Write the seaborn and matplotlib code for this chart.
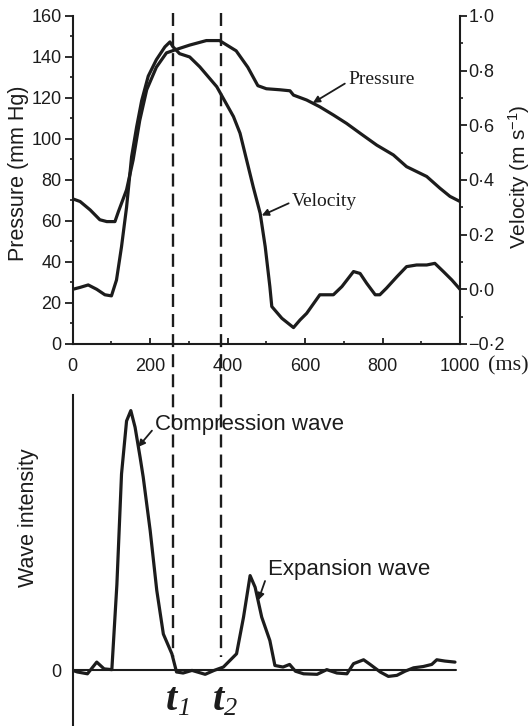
import matplotlib
matplotlib.use("Agg")
import matplotlib.pyplot as plt
import seaborn as sns
from matplotlib import transforms
from matplotlib.ticker import MultipleLocator, FixedLocator

# ---------------- data ----------------
time_p = [0, 19, 45, 70, 88, 109, 118, 139, 156, 173, 191, 216, 242, 268, 302,
          345, 379, 422, 452, 478, 500, 535, 561, 570, 604, 638, 673, 707, 742,
          785, 828, 862, 914, 948, 974, 1000]
pressure = [70.8, 69.5, 65.4, 60.6, 59.7, 59.7, 64.6, 75.2, 89.8, 109, 124, 135,
            142, 143.7, 145.8, 148, 148, 143, 135, 126, 124.5, 124, 123.5, 121.4,
            119, 115.7, 111.7, 107.6, 102.8, 97, 92.2, 86.5, 81.7, 76, 72, 69.5]

time_v = [0, 19, 40, 62, 83, 100, 113, 126, 139, 152, 165, 178, 195, 216, 238,
          251, 259, 276, 302, 328, 372, 415, 432, 449, 466, 484, 497, 509, 514,
          540, 570, 587, 604, 638, 673, 695, 725, 742, 759, 781, 793, 810, 837,
          862, 888, 914, 935, 957, 979, 1000]
velocity = [0.0, 0.007, 0.016, 0.0, -0.02, -0.024, 0.034, 0.156, 0.30, 0.485,
            0.594, 0.69, 0.78, 0.84, 0.887, 0.905, 0.887, 0.862, 0.85, 0.814,
            0.741, 0.632, 0.571, 0.473, 0.375, 0.278, 0.156, 0.01, -0.063,
            -0.106, -0.14, -0.112, -0.088, -0.02, -0.02, 0.01, 0.065, 0.058,
            0.022, -0.02, -0.02, 0.004, 0.046, 0.083, 0.089, 0.089, 0.095,
            0.065, 0.034, 0.0]

time_w = [0, 12, 38, 62, 81, 101, 114, 126, 139, 150, 161, 174, 182, 200, 217,
          234, 256, 268, 285, 308, 342, 365, 389, 423, 441, 458, 471, 488, 509,
          522, 543, 560, 575, 596, 631, 656, 682, 708, 725, 751, 768, 794, 815,
          837, 858, 880, 905, 927, 940, 961, 987]
wave = [0, -0.6, -1.3, 3.2, 0.6, 0.3, 33, 75.6, 96, 100, 93.6, 82, 74.4, 53.8,
        30.8, 14, 6.4, -0.6, -1, 0, -1.5, 0, 1.3, 6.4, 20.5, 36.5, 32, 20.5,
        11.5, 1.9, 1.3, 2.3, -0.3, -1.3, -1.5, 0.3, -1, -1.3, 2.6, 4.1, 2.3,
        -0.6, -2.3, -1.9, -0.3, 1, 1.5, 2.3, 4.1, 3.6, 3.2]

marker_times = [260, 382]
marker_subscripts = ['1', '2']

x_ticks = [0, 200, 400, 600, 800, 1000]
p_ticks = [0, 20, 40, 60, 80, 100, 120, 140, 160]
v_ticks = [-0.2, 0.0, 0.2, 0.4, 0.6, 0.8, 1.0]
v_tick_labels = ['\u22120\u00b72', '0\u00b70', '0\u00b72', '0\u00b74', '0\u00b76', '0\u00b78', '1\u00b70']

# ---------------- style ----------------
sns.set_theme(style="ticks")
plt.rcParams['font.family'] = ['Liberation Sans', 'DejaVu Sans']
plt.rcParams['mathtext.fontset'] = 'custom'
plt.rcParams['mathtext.rm'] = 'Liberation Sans'
plt.rcParams['mathtext.it'] = 'Liberation Sans:italic'
plt.rcParams['mathtext.bf'] = 'Liberation Sans:bold'

ink = '#1c1c1c'
curve_lw = 2.3
spine_lw = 1.5
serif = ['Liberation Serif', 'DejaVu Serif']

fig = plt.figure(figsize=(5.32, 7.26), dpi=100)
ax1 = fig.add_axes([0.1367, 0.5262, 0.728, 0.4518])
ax1b = ax1.twinx()
ax2 = fig.add_axes([0.1367, 0.0014, 0.728, 0.4545])
for a in (ax1, ax1b, ax2):
    a.set_facecolor('none')
fig.patch.set_facecolor('white')

# ---------------- top panel ----------------
sns.lineplot(x=time_p, y=pressure, ax=ax1, color=ink, lw=curve_lw, estimator=None)
sns.lineplot(x=time_v, y=velocity, ax=ax1b, color=ink, lw=curve_lw, estimator=None)

ax1.set_xlim(0, 1000)
ax1.set_ylim(0, 160)
ax1b.set_ylim(-0.2, 1.0)

ax1.spines['top'].set_visible(False)
ax1.spines['right'].set_visible(False)
ax1b.spines['top'].set_visible(False)
ax1b.spines['left'].set_visible(False)
ax1b.spines['bottom'].set_visible(False)
for sp in ('left', 'bottom'):
    ax1.spines[sp].set_linewidth(spine_lw)
    ax1.spines[sp].set_color(ink)
ax1b.spines['right'].set_linewidth(spine_lw)
ax1b.spines['right'].set_color(ink)

ax1.xaxis.set_major_locator(FixedLocator(x_ticks))
ax1.xaxis.set_minor_locator(MultipleLocator(100))
ax1.set_xticklabels([str(v) for v in x_ticks])
ax1.yaxis.set_major_locator(FixedLocator(p_ticks))
ax1.yaxis.set_minor_locator(MultipleLocator(10))
ax1.set_yticklabels([str(v) for v in p_ticks])
ax1b.yaxis.set_major_locator(FixedLocator(v_ticks))
ax1b.yaxis.set_minor_locator(MultipleLocator(0.1))
ax1b.set_yticklabels(v_tick_labels)

ax1.tick_params(axis='x', which='major', direction='in', length=4, width=1.3,
                pad=10, labelsize=13, colors=ink)
ax1.tick_params(axis='x', which='minor', direction='in', length=2.5, width=1.2, colors=ink)
ax1.tick_params(axis='y', which='major', direction='out', length=5.5, width=1.3,
                pad=2.5, labelsize=13, colors=ink)
ax1.tick_params(axis='y', which='minor', direction='out', length=2.5, width=1.2, colors=ink)
ax1b.tick_params(axis='y', which='major', direction='out', length=5, width=1.3,
                 pad=1, labelsize=13, colors=ink)
ax1b.tick_params(axis='y', which='minor', direction='out', length=2.5, width=1.2, colors=ink)

ax1.set_xlabel('')
ax1.set_ylabel('Pressure (mm Hg)', fontsize=15.5, color=ink)
ax1.yaxis.set_label_coords(-0.141, 0.52)
ax1.yaxis.label.set_va('center')
ax1b.set_ylabel('Velocity (m s$^{-1}$)', fontsize=15, color=ink)
ax1b.yaxis.set_label_coords(1.152, 0.51)
ax1b.yaxis.label.set_va('center')

fig.text(488 / 532, 1 - 366 / 726, '(ms)', fontsize=16, family=serif,
         ha='left', va='center', color=ink)

arrow = dict(arrowstyle='-|>', color=ink, lw=1.3, mutation_scale=10,
             shrinkA=0, shrinkB=0, relpos=(0, 0.4))
ax1.annotate('Pressure', xy=(620, 117.6), xytext=(711, 128.8), fontsize=14,
             family=serif, ha='left', va='center', color=ink, arrowprops=arrow)
ax1b.annotate('Velocity', xy=(488, 0.27), xytext=(566, 0.32), fontsize=14,
              family=serif, ha='left', va='center', color=ink,
              arrowprops=dict(arrow, relpos=(0, 0.5)))

# ---------------- bottom panel ----------------
sns.lineplot(x=time_w, y=wave, ax=ax2, color=ink, lw=curve_lw, estimator=None)
ax2.set_xlim(0, 1000)
ax2.set_ylim(-21, 106)
ax2.axhline(0, xmin=0, xmax=0.99, color=ink, lw=spine_lw)
for sp in ('top', 'right', 'bottom'):
    ax2.spines[sp].set_visible(False)
ax2.spines['left'].set_linewidth(spine_lw)
ax2.spines['left'].set_color(ink)
ax2.set_xticks([])
ax2.set_yticks([0])
ax2.set_yticklabels(['0'])
ax2.tick_params(axis='y', length=0, pad=8, labelsize=13, colors=ink)
ax2.set_xlabel('')
ax2.set_ylabel('Wave intensity', fontsize=15.5, color=ink)
ax2.yaxis.set_label_coords(-0.115, 0.627)
ax2.yaxis.label.set_va('center')

ax2.annotate('Compression wave', xy=(169, 86), xytext=(213, 94.6), fontsize=16,
             ha='left', va='center', color=ink, arrowprops=arrow)
ax2.annotate('Expansion wave', xy=(479, 27), xytext=(505, 38.8), fontsize=16,
             ha='left', va='center', color=ink, arrowprops=arrow)

# ---------------- marker lines t1, t2 ----------------
trans_top = transforms.blended_transform_factory(ax1.transData, fig.transFigure)
trans_bot = transforms.blended_transform_factory(ax2.transData, fig.transFigure)
for t, sub in zip(marker_times, marker_subscripts):
    ax1.plot([t, t], [0.982, 0.095], transform=trans_top, clip_on=False,
             ls=(0, (5.5, 3)), lw=1.7, color=ink)
    tr_t = transforms.offset_copy(trans_bot, fig=fig, x=-2, y=0, units='dots')
    tr_s = transforms.offset_copy(trans_bot, fig=fig, x=10, y=-5, units='dots')
    ax2.text(t, 16 / 726, 't', transform=tr_t, fontsize=29, family=serif,
             style='italic', weight='bold', ha='center', va='baseline', color=ink)
    ax2.text(t, 16 / 726, sub, transform=tr_s, fontsize=19, family=serif,
             style='italic', ha='center', va='baseline', color=ink)

ax1.set_xlim(0, 1000)
ax1.set_ylim(0, 160)

fig.savefig('out.png', dpi=100, facecolor='white')
